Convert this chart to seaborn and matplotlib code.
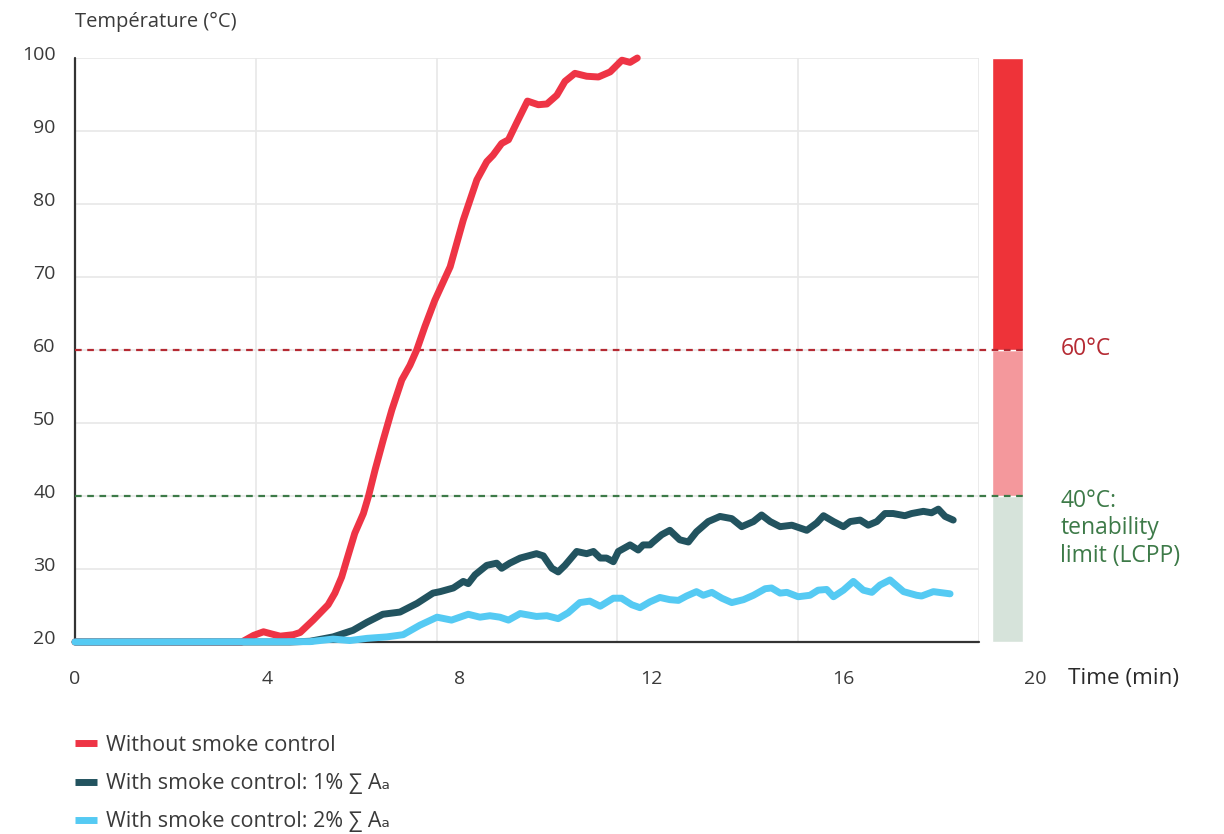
import matplotlib
matplotlib.use("Agg")
import matplotlib.pyplot as plt
import matplotlib.transforms as mtransforms
from matplotlib.lines import Line2D
import pandas as pd
import seaborn as sns

# temperature curves (min, °C)
time_no = [0, 3.69, 3.95, 4.17, 4.35, 4.54, 4.83, 4.98, 5.27, 5.60, 5.75, 5.90, 6.01, 6.19,
           6.38, 6.49, 6.64, 6.82, 7.01, 7.23, 7.41, 7.56, 7.74, 7.96, 8.30, 8.59, 8.89, 9.11,
           9.25, 9.44, 9.59, 9.77, 10.01, 10.25, 10.44, 10.66, 10.84, 11.06, 11.32, 11.58,
           11.84, 12.10, 12.28, 12.44]
temp_no = [20, 20, 20.9, 21.4, 21.1, 20.8, 21.0, 21.3, 23.0, 25.1, 26.7, 28.9, 31.2, 34.9,
           37.6, 39.9, 43.6, 47.7, 51.8, 55.9, 57.9, 60.0, 63.2, 66.8, 71.4, 77.8, 83.3, 85.8,
           86.7, 88.3, 88.8, 91.1, 94.1, 93.6, 93.7, 94.9, 96.8, 97.9, 97.5, 97.4,
           98.1, 99.7, 99.4, 100.0]

time_1 = [0, 4.76, 5.20, 5.71, 6.15, 6.46, 6.81, 7.19, 7.57, 7.92, 8.08, 8.37, 8.59, 8.70,
          8.85, 9.11, 9.33, 9.44, 9.62, 9.85, 10.03, 10.21, 10.36, 10.55, 10.69, 10.84, 11.10,
          11.32, 11.47, 11.62, 11.76, 11.91, 12.02, 12.28, 12.46, 12.57, 12.72, 12.79, 12.98,
          13.16, 13.38, 13.57, 13.75, 14.01, 14.27, 14.53, 14.75, 15.01, 15.19, 15.38, 15.60,
          15.86, 16.19, 16.41, 16.56, 16.78, 17.00, 17.15, 17.37, 17.55, 17.74, 17.92, 18.10,
          18.36, 18.51, 18.77, 18.95, 19.10, 19.25, 19.43]
temp_1 = [20, 20, 20.1, 20.7, 21.6, 22.7, 23.8, 24.1, 25.3, 26.7, 26.9, 27.4, 28.3, 28.0,
          29.2, 30.5, 30.8, 30.1, 30.8, 31.5, 31.8, 32.1, 31.8, 30.1, 29.6, 30.5, 32.4,
          32.1, 32.4, 31.5, 31.5, 31.0, 32.4, 33.3, 32.6, 33.3, 33.3, 33.7, 34.7,
          35.3, 34.0, 33.7, 35.1, 36.5, 37.2, 36.9, 35.8, 36.5, 37.4, 36.5, 35.8,
          36.0, 35.3, 36.3, 37.3, 36.5, 35.8, 36.5, 36.7, 36.0, 36.5, 37.6, 37.6,
          37.3, 37.6, 37.9, 37.7, 38.2, 37.2, 36.7]

time_2 = [0, 5.20, 5.71, 6.08, 6.46, 6.90, 7.26, 7.63, 8.01, 8.33, 8.70, 8.96, 9.18, 9.40,
          9.59, 9.85, 10.21, 10.44, 10.69, 10.91, 11.17, 11.39, 11.62, 11.91, 12.09, 12.32,
          12.50, 12.72, 12.94, 13.16, 13.35, 13.53, 13.75, 13.90, 14.09, 14.31, 14.53, 14.79,
          15.01, 15.27, 15.41, 15.60, 15.75, 16.00, 16.26, 16.44, 16.63, 16.78, 17.00, 17.22,
          17.44, 17.63, 17.81, 18.03, 18.33, 18.62, 18.73, 18.99, 19.36]
temp_2 = [20, 20.05, 20.4, 20.2, 20.5, 20.7, 21.0, 22.3, 23.4, 23.0, 23.8, 23.4, 23.6, 23.4,
          23.0, 23.9, 23.5, 23.6, 23.2, 24.0, 25.4, 25.6, 24.9, 26.0, 26.0, 25.1,
          24.7, 25.5, 26.1, 25.8, 25.7, 26.3, 26.9, 26.4, 26.8, 26.0, 25.4, 25.8,
          26.4, 27.3, 27.4, 26.7, 26.8, 26.2, 26.4, 27.1, 27.2, 26.2, 27.1, 28.3,
          27.1, 26.8, 27.8, 28.5, 26.9, 26.4, 26.3, 26.9, 26.6]

series_names = ["Without smoke control",
                "With smoke control: 1% \u2211 A\u2090",
                "With smoke control: 2% \u2211 A\u2090"]
series_colors = ["#EE3445", "#22535F", "#55CAF3"]

y_ticks = [20, 30, 40, 50, 60, 70, 80, 90, 100]
x_grid = [0, 4, 8, 12, 16, 20]
x_tick_labels = ["0", "4", "8", "12", "16", "20"]

zone_bottoms = [20, 40, 60]
zone_tops = [40, 60, 100]
zone_colors = ["#D6E3DA", "#F4989C", "#EE3339"]

limit_values = [60, 40]
limit_colors = ["#B52A33", "#3D7A48"]
limit_texts = ["60\u00b0C", "40\u00b0C:\ntenability\nlimit (LCPP)"]

df = pd.concat([
    pd.DataFrame({"time": time_no, "temp": temp_no, "series": series_names[0]}),
    pd.DataFrame({"time": time_1, "temp": temp_1, "series": series_names[1]}),
    pd.DataFrame({"time": time_2, "temp": temp_2, "series": series_names[2]}),
], ignore_index=True)

sns.set_theme(style="white")
plt.rcParams["font.family"] = ["Open Sans", "DejaVu Sans"]

fig = plt.figure(figsize=(12.24, 8.34), dpi=100)
ax = fig.add_axes([75 / 1224, 192 / 834, 904 / 1224, 584 / 834])
ax.set_xlim(0, 20)
ax.set_ylim(20, 100)

# grid, drawn by hand so the frame looks like the original
for yv in y_ticks[1:]:
    ax.plot([0, 20], [yv, yv], color="#E8E8E8", lw=1.2, zorder=0)
for xv in x_grid[1:]:
    ax.plot([xv, xv], [20, 100], color="#E8E8E8", lw=1.2, zorder=0)
for side in ["top", "right", "bottom", "left"]:
    ax.spines[side].set_visible(False)
ax.plot([0, 0], [20, 100], color="#333333", lw=1.6, zorder=1, clip_on=False)
ax.plot([0, 20], [20, 20], color="#333333", lw=1.6, zorder=1, clip_on=False)

# tenability bar to the right of the plot
bar_x = 20.63
for b, t, c in zip(zone_bottoms, zone_tops, zone_colors):
    ax.bar(bar_x, t - b, bottom=b, width=0.68, color=c, clip_on=False, zorder=1)

for v, c, txt in zip(limit_values, limit_colors, limit_texts):
    ax.plot([0, 20.97], [v, v], color=c, lw=1.6, ls=(0, (3, 2.5)), clip_on=False, zorder=2)
    ax.text(21.8, v + (0.1 if v == 60 else 1.0), txt, color=c, fontsize=16.5,
            va="center" if v == 60 else "top", linespacing=1.2, clip_on=False)

sns.lineplot(data=df, x="time", y="temp", hue="series", hue_order=series_names,
             palette=series_colors, estimator=None, sort=False, legend=False,
             linewidth=5.0, solid_capstyle="round", solid_joinstyle="round",
             clip_on=False, zorder=3, ax=ax)

ax.set_xlabel("")
ax.set_ylabel("")
ax.set_xticks([])
ax.set_yticks(y_ticks)
ax.set_yticklabels([str(v) for v in y_ticks])
ax.tick_params(axis="y", length=0, pad=14, labelsize=14, labelcolor="#3a3a3a")
shift = mtransforms.ScaledTranslation(0, 5 / 100, fig.dpi_scale_trans)
for lab in ax.get_yticklabels():
    lab.set_transform(lab.get_transform() + shift)

# x labels are spaced a little wider than the grid in the original
xt = mtransforms.blended_transform_factory(ax.transData, ax.transAxes)
for i, lab in enumerate(x_tick_labels):
    ax.text(i * 4.25, -0.063, lab, transform=xt, ha="center", va="center",
            fontsize=14, color="#3a3a3a", clip_on=False)
ax.text(21.97, -0.063, "Time (min)", transform=xt, ha="left", va="center",
        fontsize=16.2, color="#2a2a2a", clip_on=False)
fig.text(75 / 1224, 1 - 22 / 834, "Temp\u00e9rature (\u00b0C)", ha="left", va="center",
         fontsize=14.5, color="#3a3a3a")

handles = [Line2D([0], [0], color=c, lw=5, solid_capstyle="butt") for c in series_colors]
fig.legend(handles, series_names, loc="upper left", bbox_to_anchor=(75 / 1224, 1 - 735 / 834),
           frameon=False, borderpad=0, borderaxespad=0, handlelength=1.0,
           handletextpad=0.45, labelspacing=0.8, fontsize=15.5, labelcolor="#3a3a3a")

fig.savefig("out.png", dpi=100)
